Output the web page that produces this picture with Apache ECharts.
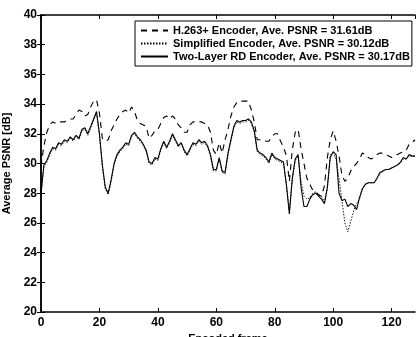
<!DOCTYPE html>
<html>
<head>
<meta charset="utf-8">
<script src="https://cdn.jsdelivr.net/npm/echarts@6/dist/echarts.min.js"></script>
<style>
  html, body { margin: 0; padding: 0; background: #fff; }
  #container { width: 417px; height: 337px; }
</style>
</head>
<body>
<div id="container"></div>
<script>
// encoded frame index 0..128
var frames = [];
for (var f = 0; f <= 128; f++) frames.push(f);

// H.263+ Encoder (dashed)
var h263 = [
  29.8,31.2,32.1,32.6,32.8,32.7,32.8,32.8,32.8,32.9,
  33.0,33.0,33.3,33.6,33.5,33.2,33.3,33.8,34.2,34.3,
  33.4,31.7,31.5,31.6,32.2,32.6,33.0,33.3,33.5,33.6,
  33.4,33.8,33.5,32.9,32.7,32.6,32.5,31.7,31.9,32.2,
  32.3,32.7,33.1,33.2,33.0,33.2,33.0,32.6,32.4,32.1,
  32.1,32.6,32.8,32.8,32.8,32.8,32.7,32.6,32.1,30.9,
  30.6,31.4,30.7,31.6,32.3,33.2,33.8,34.1,34.2,34.2,
  34.2,34.2,33.6,32.8,31.6,31.6,31.6,31.5,31.5,31.8,
  32.0,32.0,31.5,31.1,30.5,28.8,30.9,32.1,32.3,31.0,
  30.0,29.0,28.6,28.2,28.1,27.9,27.8,28.5,30.4,31.6,
  32.2,31.5,30.5,29.2,28.8,29.0,29.5,29.8,30.0,30.3,
  30.7,30.6,30.4,30.3,30.4,30.6,30.7,30.7,30.6,30.5,
  30.4,30.5,30.6,30.7,30.8,30.9,31.3,31.4,31.6
];

// Simplified Encoder (dotted)
var simplified = [
  27.9,29.8,30.1,30.6,31.0,30.9,31.3,31.2,31.5,31.4,
  31.7,31.5,31.8,31.6,32.2,32.3,31.9,32.4,32.9,33.4,
  31.9,29.8,28.3,27.9,28.8,29.9,30.5,30.8,31.0,31.3,
  31.2,31.8,32.0,31.7,31.5,31.2,30.8,30.0,29.9,30.3,
  30.2,30.9,31.4,31.0,31.4,31.9,31.5,31.1,31.3,30.8,
  30.5,30.9,31.3,31.2,31.5,31.3,31.4,31.1,30.5,29.5,
  29.5,30.3,29.4,29.3,30.6,31.5,32.4,32.8,32.7,32.8,
  32.8,32.9,32.7,32.1,30.8,30.6,30.5,30.3,30.0,30.6,
  30.3,30.2,30.1,30.0,28.6,26.8,28.9,30.2,30.5,28.8,
  27.8,27.6,27.7,28.0,28.1,27.9,27.8,27.4,28.3,30.6,
  30.7,30.3,29.0,27.5,26.0,25.4,26.1,26.8,27.3,27.6,
  28.3,28.6,28.7,28.7,28.7,29.0,29.3,29.5,29.6,29.6,
  29.7,29.8,29.9,30.0,30.3,30.3,30.5,30.5,30.5
];

// Two-Layer RD Encoder (solid)
var twoLayer = [
  28.0,29.9,30.2,30.7,31.1,31.0,31.4,31.3,31.6,31.5,
  31.8,31.6,31.9,31.7,32.3,32.4,32.0,32.5,33.0,33.5,
  32.0,29.9,28.4,28.0,28.9,30.0,30.6,30.9,31.1,31.4,
  31.3,31.9,32.1,31.8,31.6,31.3,30.9,30.1,30.0,30.4,
  30.3,31.0,31.5,31.1,31.5,32.0,31.6,31.2,31.4,30.9,
  30.6,31.0,31.4,31.3,31.6,31.4,31.5,31.2,30.6,29.6,
  29.6,30.4,29.5,29.4,30.7,31.6,32.5,32.9,32.8,32.9,
  32.9,33.0,32.8,32.2,30.9,30.7,30.6,30.4,30.1,30.7,
  30.4,30.3,30.2,30.1,28.5,26.6,29.0,30.3,30.6,28.4,
  27.1,27.1,27.6,27.9,28.0,27.8,27.6,27.3,28.4,30.4,
  30.8,30.6,28.0,27.5,27.6,27.1,27.3,27.2,26.9,27.7,
  28.3,28.6,28.7,28.7,28.7,29.0,29.4,29.5,29.6,29.6,
  29.7,29.8,29.9,30.1,30.4,30.3,30.6,30.5,30.5
];

var seriesNames = [
  'H.263+ Encoder, Ave. PSNR = 31.61dB',
  'Simplified Encoder, Ave. PSNR = 30.12dB',
  'Two-Layer RD Encoder, Ave. PSNR = 30.17dB'
];

function pairs(vals) {
  return frames.map(function (f, i) { return [f, vals[i]]; });
}

var dom = document.getElementById('container');
var myChart = echarts.init(dom, null, { renderer: 'canvas' });

var fontBold = { fontFamily: 'Liberation Sans', fontWeight: 'bold', color: '#000' };

// box axes (top/right) with inward ticks, no labels
var boxX = {
  type: 'value', position: 'top', min: 0, max: 128, interval: 20,
  axisLine: { onZero: false, lineStyle: { color: '#000', width: 1.5 } },
  axisTick: { inside: true, length: 4, lineStyle: { color: '#000' } },
  axisLabel: { show: false }, splitLine: { show: false }
};
var boxY = {
  type: 'value', position: 'right', min: 20, max: 40, interval: 2,
  axisLine: { show: true, lineStyle: { color: '#000', width: 1.5 } },
  axisTick: { inside: true, length: 4, lineStyle: { color: '#000' } },
  axisLabel: { show: false }, splitLine: { show: false }
};

var option = {
  animation: false,
  backgroundColor: '#fff',
  grid: { left: 41, right: 2, top: 15, bottom: 25, outerBoundsMode: 'none', containLabel: false },
  legend: {
    orient: 'vertical',
    left: 135,
    top: 21,
    padding: [4, 2, 4, 5],
    itemGap: 2,
    itemWidth: 27,
    itemHeight: 12,
    borderColor: '#000',
    borderWidth: 1,
    backgroundColor: '#fff',
    itemStyle: { opacity: 0 },
    textStyle: { fontFamily: 'Liberation Sans', fontWeight: 'bold', fontSize: 11, color: '#000' },
    data: seriesNames
  },
  xAxis: [{
    type: 'value',
    min: 0, max: 128, interval: 20,
    name: 'Encoded frame',
    nameLocation: 'middle',
    nameGap: 18,
    nameTextStyle: Object.assign({ fontSize: 11 }, fontBold),
    axisLine: { onZero: false, lineStyle: { color: '#000', width: 1.5 } },
    axisTick: { inside: true, length: 4, lineStyle: { color: '#000' } },
    axisLabel: Object.assign({ fontSize: 12, margin: 5, showMaxLabel: false }, fontBold),
    splitLine: { show: false }
  }, boxX],
  yAxis: [{
    type: 'value',
    min: 20, max: 40, interval: 2,
    name: 'Average PSNR [dB]',
    nameLocation: 'middle',
    nameGap: 22,
    nameTextStyle: Object.assign({ fontSize: 11 }, fontBold),
    axisLine: { show: true, lineStyle: { color: '#000', width: 1.5 } },
    axisTick: { inside: true, length: 4, lineStyle: { color: '#000' } },
    axisLabel: Object.assign({ fontSize: 12, margin: 4 }, fontBold),
    splitLine: { show: false }
  }, boxY],
  series: [
    {
      name: seriesNames[0], type: 'line', symbol: 'none',
      lineStyle: { color: '#000', width: 1.1, type: [6, 5] },
      itemStyle: { color: '#000' },
      data: pairs(h263)
    },
    {
      name: seriesNames[1], type: 'line', symbol: 'none',
      lineStyle: { color: '#000', width: 0.9, type: [1.5, 1.5] },
      itemStyle: { color: '#000' },
      data: pairs(simplified)
    },
    {
      name: seriesNames[2], type: 'line', symbol: 'none',
      lineStyle: { color: '#000', width: 1.1 },
      itemStyle: { color: '#000' },
      data: pairs(twoLayer)
    }
  ]
};
myChart.setOption(option);
</script>
</body>
</html>
